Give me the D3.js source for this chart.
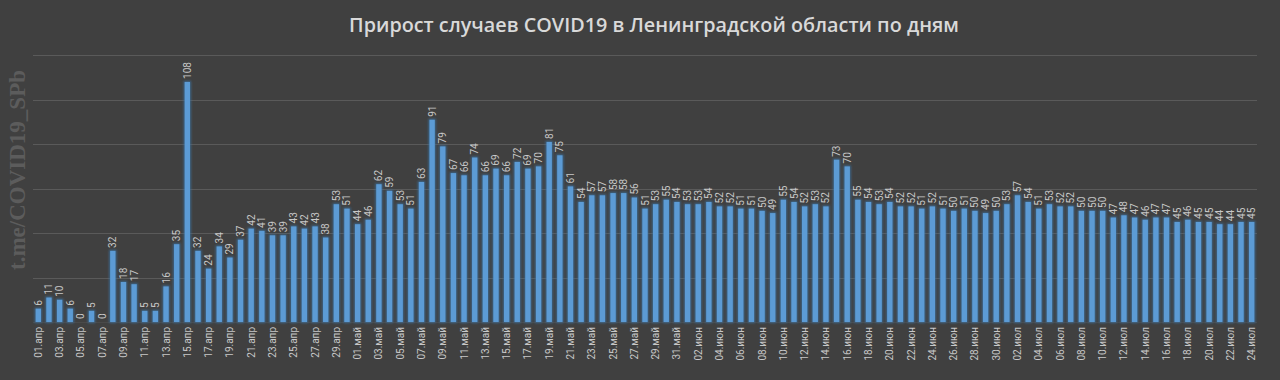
<!DOCTYPE html>
<html><head><meta charset="utf-8">
<script src="https://cdn.jsdelivr.net/npm/d3@7"></script>
<style>html,body{margin:0;padding:0;background:#404040;}svg{display:block;}</style>
</head><body>
<svg id="chart" width="1280" height="380"></svg>
<script>
const title = "Прирост случаев COVID19 в Ленинградской области по дням";
const watermark = "t.me/COVID19_SPb";
const months = [["апр", 30], ["май", 31], ["июн", 30], ["июл", 24]];
const values = [
  6, 11, 10, 6, 0, 5, 0, 32, 18, 17, 5, 5, 16, 35, 108, 32, 24, 34, 29, 37,
  42, 41, 39, 39, 43, 42, 43, 38, 53, 51,
  44, 46, 62, 59, 53, 51, 63, 91, 79, 67, 66, 74, 66, 69, 66, 72, 69, 70, 81, 75,
  61, 54, 57, 57, 58, 58, 56, 51, 53, 55, 54,
  53, 53, 54, 52, 52, 51, 51, 50, 49, 55, 54, 52, 53, 52, 73, 70, 55, 54, 53, 54,
  52, 52, 51, 52, 51, 50, 51, 50, 49, 50,
  53, 57, 54, 51, 53, 52, 52, 50, 50, 50, 47, 48, 47, 46, 47, 47, 45, 46, 45, 45,
  44, 44, 45, 45
];
const yTicks = [0, 20, 40, 60, 80, 100, 120];

const categories = [];
months.forEach(([m, n]) => {
  for (let d = 1; d <= n; d++) categories.push(String(d).padStart(2, "0") + "." + m);
});

const svg = d3.select("#chart");
const W = 1280, H = 380;
svg.append("rect").attr("width", W).attr("height", H).attr("fill", "#404040");

const defs = svg.append("defs");
const f = defs.append("filter").attr("id", "glow").attr("x", "-100%").attr("y", "-10%").attr("width", "300%").attr("height", "120%");
f.append("feMorphology").attr("in", "SourceAlpha").attr("operator", "dilate").attr("radius", 1).attr("result", "d");
f.append("feGaussianBlur").attr("in", "d").attr("stdDeviation", 1.3).attr("result", "b");
f.append("feFlood").attr("flood-color", "#3a6f9e").attr("flood-opacity", 0.8);
f.append("feComposite").attr("in2", "b").attr("operator", "in").attr("result", "g");
const fm = f.append("feMerge");
fm.append("feMergeNode").attr("in", "g");
fm.append("feMergeNode").attr("in", "SourceGraphic");

const x = d3.scaleBand().domain(categories).range([33, 1257]).paddingInner(0.5).paddingOuter(0.25);
const y = d3.scaleLinear().domain([0, 120]).range([322, 55.3]);

// gridlines
svg.append("g").selectAll("line").data(yTicks.slice(1)).join("line")
  .attr("x1", 33).attr("x2", 1257)
  .attr("y1", d => Math.round(y(d)) + 0.5).attr("y2", d => Math.round(y(d)) + 0.5)
  .attr("stroke", "#5a5a5a").attr("stroke-width", 1);

// baseline
svg.append("line").attr("x1", 33).attr("x2", 1257)
  .attr("y1", Math.round(y(0)) + 0.5).attr("y2", Math.round(y(0)) + 0.5)
  .attr("stroke", "#4a4a4a");

// title
svg.append("text").attr("x", 654).attr("y", 32).attr("text-anchor", "middle")
  .attr("font-family", "'Open Sans', sans-serif").attr("font-weight", 600).attr("font-size", 19.8)
  .attr("fill", "#d9d9d9").text(title);

// watermark
svg.append("text").attr("transform", "translate(25,170) rotate(-90)").attr("text-anchor", "middle")
  .attr("font-family", "'Liberation Serif', 'DejaVu Serif', serif").attr("font-weight", "bold").attr("font-size", 23)
  .attr("fill", "#5c5c5c").text(watermark);

// bars
svg.append("g").attr("filter", "url(#glow)").selectAll("rect").data(values).join("rect")
  .attr("x", (d, i) => x(categories[i]))
  .attr("width", x.bandwidth())
  .attr("y", d => y(d))
  .attr("height", d => y(0) - y(d))
  .attr("fill", "#5b9bd5");

// value labels
svg.append("g").selectAll("text").data(values).join("text")
  .attr("transform", (d, i) => `translate(${x(categories[i]) + x.bandwidth() / 2 + 3.5},${y(d) - 3}) rotate(-90)`)
  .attr("font-family", "Roboto, 'Liberation Sans', sans-serif").attr("font-size", 10)
  .attr("fill", "#c8c8c8").text(d => d);

// x axis labels (every other day)
const xAxis = d3.axisBottom(x).tickValues(categories.filter((c, i) => i % 2 === 0)).tickSize(0).tickPadding(0);
const gx = svg.append("g").attr("transform", `translate(0,${y(0)})`).call(xAxis);
gx.select(".domain").remove();
gx.selectAll("text")
  .attr("transform", "translate(3.5,5) rotate(-90)")
  .attr("text-anchor", "end").attr("dy", 0).attr("y", 0).attr("x", 0)
  .attr("font-family", "Roboto, 'Liberation Sans', sans-serif").attr("font-size", 10)
  .attr("fill", "#c8c8c8");
</script>
</body></html>
